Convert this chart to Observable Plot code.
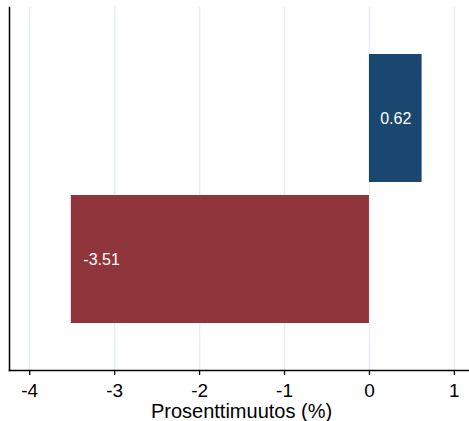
<!DOCTYPE html>
<html>
<head>
<meta charset="utf-8">
<script src="https://cdn.jsdelivr.net/npm/d3@7"></script>
<script src="https://cdn.jsdelivr.net/npm/@observablehq/plot@0.6"></script>
<style>
  html, body { margin: 0; padding: 0; background: #fff; }
  svg { display: block; }
</style>
</head>
<body>
<div id="chart"></div>
<script>
const categories = ["Nousu", "Lasku"];
const values = [0.62, -3.51];
const valueLabels = ["0.62", "-3.51"];
const barColors = ["#1a476f", "#90353b"];
const xTicks = [-4, -3, -2, -1, 0, 1];
const xDomain = [-4.238, 1.178];
const xLabel = "Prosenttimuutos (%)";

const data = categories.map((c, i) => ({cat: c, value: values[i], label: valueLabels[i], color: barColors[i]}));

const chart = Plot.plot({
  width: 469,
  height: 421,
  marginLeft: 9,
  marginRight: 0,
  marginTop: 7,
  marginBottom: 51,
  style: {fontFamily: "Arial, 'Liberation Sans', sans-serif", background: "#fff"},
  x: {domain: xDomain, ticks: xTicks, label: null},
  y: {domain: categories, type: "band", paddingInner: 0.0915, paddingOuter: 0.324, axis: null},
  marks: [
    Plot.gridX(xTicks, {stroke: "#e7eff2", strokeOpacity: 1, strokeWidth: 1.5}),
    Plot.barX(data, {x1: 0, x2: "value", y: "cat", fill: d => d.color}),
    Plot.text(data.filter(d => d.value >= 0), {x: d => d.value / 2, y: "cat", text: "label", fill: "white", fontSize: 16, textAnchor: "middle"}),
    Plot.text(data.filter(d => d.value < 0), {x: "value", y: "cat", text: "label", fill: "white", fontSize: 16, textAnchor: "start", dx: 12}),
    Plot.axisX(xTicks, {tickSize: 5, tickPadding: 8, fontSize: 19, tickFormat: d => String(d), label: null, stroke: "black", strokeWidth: 1.3, fill: "black"}),
    Plot.frame({anchor: "left", stroke: "black", strokeWidth: 1.5}),
    Plot.frame({anchor: "bottom", stroke: "black", strokeWidth: 1.5}),
    Plot.text([xLabel], {frameAnchor: "bottom", text: d => d, fontSize: 20, lineAnchor: "bottom", dy: 47, dx: 2, fill: "black"})
  ]
});
document.getElementById("chart").append(chart);
</script>
</body>
</html>
